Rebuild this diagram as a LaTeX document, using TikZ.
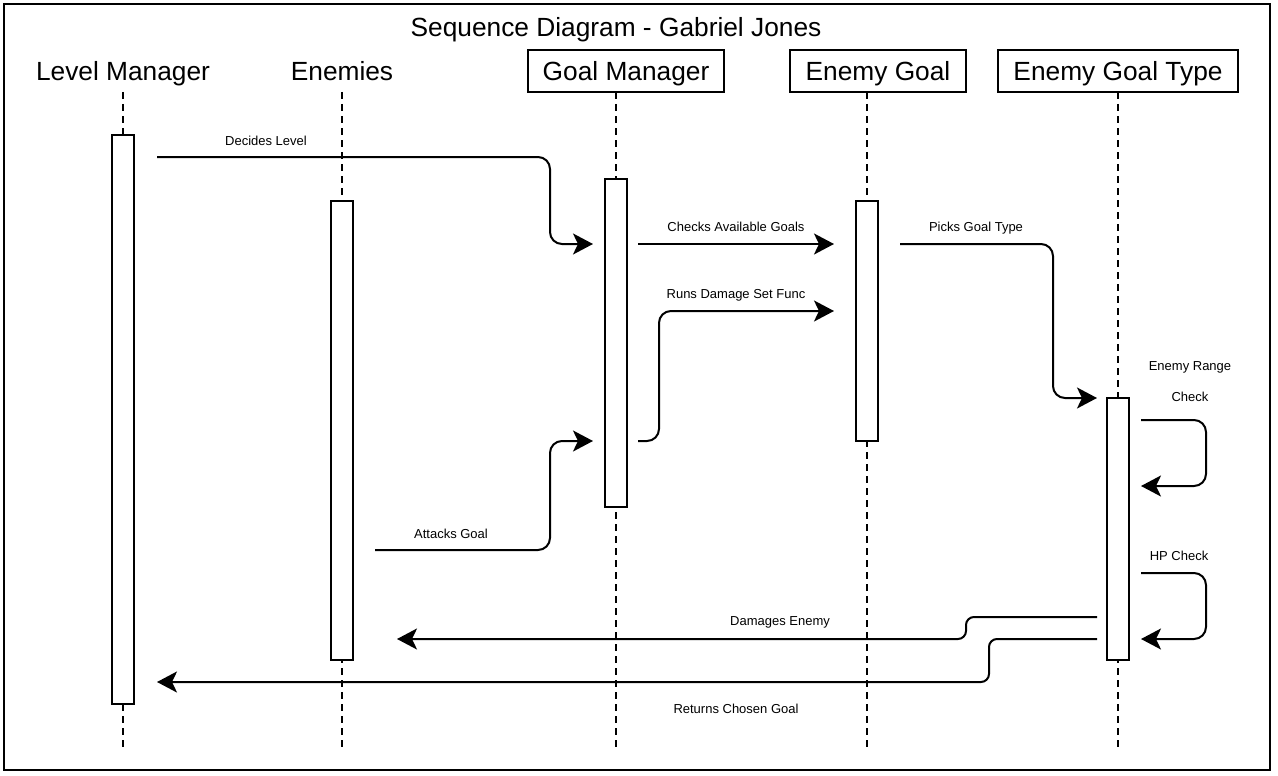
\documentclass[tikz,border=0pt]{standalone}
\usepackage{fontspec}
\setmainfont{Liberation Sans}
\usetikzlibrary{arrows.meta,calc}
\begin{document}
\begin{tikzpicture}[x=1pt,y=-1pt,
  frame/.style={draw, line width=2pt},
  bigtxt/.style={font=\fontsize{26.3}{30}\selectfont, text height=18.8pt, text depth=0pt},
  head/.style={draw=none, bigtxt, minimum height=42pt, inner sep=0pt},
  headbox/.style={head, draw, line width=2pt},
  act/.style={draw, line width=1.8pt, fill=white, minimum width=22pt, inner sep=0pt},
  life/.style={line width=2pt, dash pattern=on 7pt off 5pt},
  msg/.style={line width=2pt, rounded corners=12pt, -{Stealth[length=20pt,width=21pt,inset=5pt]}},
  smsg/.style={msg, rounded corners=8pt},
  lbl/.style={font=\fontsize{13}{15}\selectfont, inner sep=0pt, text height=9.3pt, text depth=0pt}
]
\useasboundingbox (0,0) rectangle (1278,776);
\draw[frame] (4,4) rectangle (1270,770);

% title
\node[bigtxt, inner sep=0pt] (title) at (616,27) {Sequence Diagram - Gabriel Jones};

% headers
\node[head] (lmH) at (123,71) {Level Manager};
\node[head] (enH) at (342,71) {Enemies};
\node[headbox, minimum width=196pt] (gmH) at (626,71) {Goal Manager};
\node[headbox, minimum width=176pt] (egH) at (878,71) {Enemy Goal};
\node[headbox, minimum width=240pt] (etH) at (1118,71) {Enemy Goal Type};

% lifelines
\coordinate (lmT) at (123,92);  \coordinate (lmB) at (123,748);
\coordinate (enT) at (342,92);  \coordinate (enB) at (342,748);
\coordinate (gmT) at (616,92);  \coordinate (gmB) at (616,748);
\coordinate (egT) at (867,92);  \coordinate (egB) at (867,748);
\coordinate (etT) at (1118,92); \coordinate (etB) at (1118,748);
\draw[life] (lmT) -- (lmB);
\draw[life] (enT) -- (enB);
\draw[life] (gmT) -- (gmB);
\draw[life] (egT) -- (egB);
\draw[life] (etT) -- (etB);

% activation bars
\node[act, minimum height=569pt] (lmA) at (123,419.5) {};
\node[act, minimum height=459pt] (enA) at (342,430.5) {};
\node[act, minimum height=328pt] (gmA) at (616,343) {};
\node[act, minimum height=240pt] (egA) at (867,321) {};
\node[act, minimum height=262pt] (etA) at (1118,529) {};

% message end points
\coordinate (m1s) at (157,157);  \coordinate (m1e) at (593,244);
\coordinate (m2s) at (638,244);  \coordinate (m2e) at (834,244);
\coordinate (m3s) at (900,244);  \coordinate (m3e) at (1097,398);
\coordinate (m4s) at (638,441);  \coordinate (m4e) at (834,311);
\coordinate (m5s) at (375,550);  \coordinate (m5e) at (593,441);
\coordinate (m6s) at (1141,420); \coordinate (m6e) at (1141,486);
\coordinate (m7s) at (1141,573); \coordinate (m7e) at (1141,639);
\coordinate (m8s) at (1097,617); \coordinate (m8e) at (397,639);
\coordinate (m9s) at (1097,639); \coordinate (m9e) at (157,682);

% messages
\draw[msg] (m1s) -- (550,157) -- (550,244) -- (m1e);
\draw[msg] (m2s) -- (m2e);
\draw[msg] (m3s) -- (1053,244) -- (1053,398) -- (m3e);
\draw[msg] (m4s) -- (659,441) -- (659,311) -- (m4e);
\draw[msg] (m5s) -- (550,550) -- (550,441) -- (m5e);
\draw[msg] (m6s) -- (1206,420) -- (1206,486) -- (m6e);
\draw[msg] (m7s) -- (1206,573) -- (1206,639) -- (m7e);
\draw[smsg] (m8s) -- (966,617) -- (966,639) -- (m8e);
\draw[smsg] (m9s) -- (989,639) -- (989,682) -- (m9e);

% labels
\node[lbl] (l1) at (266,140.5) {Decides Level};
\node[lbl] (l2) at (736,227) {Checks Available Goals};
\node[lbl] (l3) at (976,227) {Picks Goal Type};
\node[lbl] (l4) at (736,294) {Runs Damage Set Func};
\node[lbl] (l6a) at (1190,366) {Enemy Range};
\node[lbl] (l6b) at (1190,397) {Check};
\node[lbl] (l5) at (451,534) {Attacks Goal};
\node[lbl] (l7) at (1179,556) {HP Check};
\node[lbl] (l8) at (780,621) {Damages Enemy};
\node[lbl] (l9) at (736,709) {Returns Chosen Goal};
\end{tikzpicture}
\end{document}
